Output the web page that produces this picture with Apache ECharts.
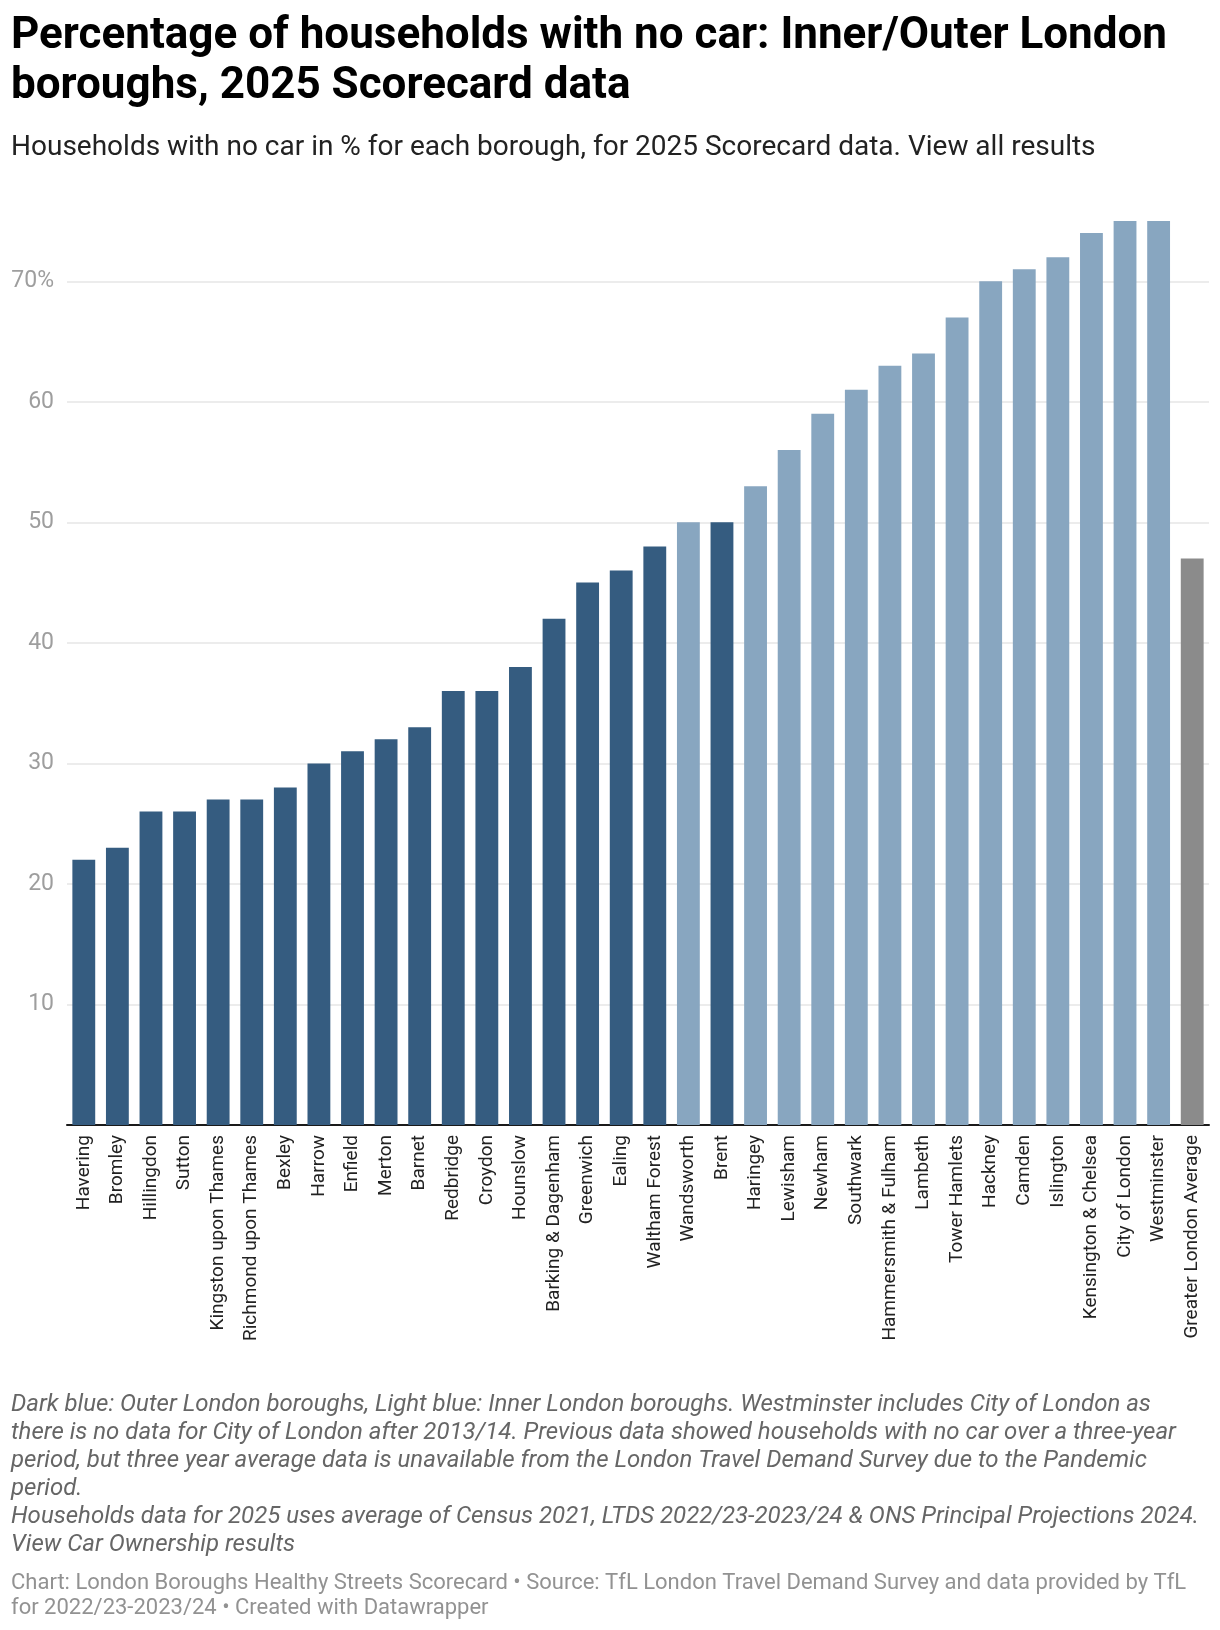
<!DOCTYPE html>
<html>
<head>
<meta charset="utf-8">
<script src="https://cdn.jsdelivr.net/npm/echarts@6/dist/echarts.min.js"></script>
<style>
html,body{margin:0;padding:0;background:#fff;}
#chart{width:1220px;height:1630px;}
</style>
</head>
<body>
<div id="chart"></div>
<script>
const categories = ["Havering","Bromley","Hillingdon","Sutton","Kingston upon Thames","Richmond upon Thames","Bexley","Harrow","Enfield","Merton","Barnet","Redbridge","Croydon","Hounslow","Barking & Dagenham","Greenwich","Ealing","Waltham Forest","Wandsworth","Brent","Haringey","Lewisham","Newham","Southwark","Hammersmith & Fulham","Lambeth","Tower Hamlets","Hackney","Camden","Islington","Kensington & Chelsea","City of London","Westminster","Greater London Average"];
const values = [22,23,26,26,27,27,28,30,31,32,33,36,36,38,42,45,46,48,50,50,53,56,59,61,63,64,67,70,71,72,74,75,75,47];
const groups = ["outer","outer","outer","outer","outer","outer","outer","outer","outer","outer","outer","outer","outer","outer","outer","outer","outer","outer","inner","outer","inner","inner","inner","inner","inner","inner","inner","inner","inner","inner","inner","inner","inner","average"];
const yTicks = [0,10,20,30,40,50,60,70];

const groupColors = {outer:"#355c80", inner:"#88a6c0", average:"#8b8b8b"};

const titleText = "Percentage of households with no car: Inner/Outer London\nboroughs, 2025 Scorecard data";
const subtitleText = "Households with no car in % for each borough, for 2025 Scorecard data. View all results";
const notesText = "Dark blue: Outer London boroughs, Light blue: Inner London boroughs. Westminster includes City of London as\nthere is no data for City of London after 2013/14. Previous data showed households with no car over a three-year\nperiod, but three year average data is unavailable from the London Travel Demand Survey due to the Pandemic\nperiod.\nHouseholds data for 2025 uses average of Census 2021, LTDS 2022/23-2023/24 & ONS Principal Projections 2024.\nView Car Ownership results";
const footerText = "Chart: London Boroughs Healthy Streets Scorecard \u2022 Source: TfL London Travel Demand Survey and data provided by TfL\nfor 2022/23-2023/24 \u2022 Created with Datawrapper";

const chart = echarts.init(document.getElementById('chart'), null, {renderer:'canvas'});
const font = "Roboto";
chart.setOption({
  backgroundColor:'#ffffff',
  animation:false,
  title:[
    {text:titleText, left:11, top:12, padding:0,
     textStyle:{fontFamily:font, fontWeight:'bold', fontSize:44, lineHeight:50, color:'#000'}},
    {text:subtitleText, left:11, top:133, padding:0,
     textStyle:{fontFamily:font, fontWeight:'normal', fontSize:28, lineHeight:30, color:'#222'}},
    {text:notesText, left:11, top:1391, padding:0,
     textStyle:{fontFamily:font, fontStyle:'italic', fontWeight:'normal', fontSize:24, lineHeight:28, color:'#666'}},
    {text:footerText, left:11, top:1571, padding:0,
     textStyle:{fontFamily:font, fontWeight:'normal', fontSize:22, lineHeight:25, color:'#929292'}}
  ],
  grid:{left:67, right:11, top:221, bottom:505, containLabel:false},
  xAxis:{
    type:'category',
    data:categories,
    axisLine:{show:true, lineStyle:{color:'#1a1a1a', width:2}},
    axisTick:{show:false},
    axisLabel:{rotate:90, interval:0, margin:10, fontFamily:font, fontSize:19, color:'#222'}
  },
  yAxis:{
    type:'value',
    min:0, max:75, interval:10,
    axisLine:{show:false},
    axisTick:{show:false},
    axisLabel:{showMaxLabel:false, margin:13, fontFamily:font, fontSize:23, color:'#9e9e9e',
      formatter:function(v){ if(v===0) return ''; if(v===yTicks[yTicks.length-1]) return v+'%'; return ''+v; }},
    splitLine:{show:true, showMaxLine:false, lineStyle:{color:['#e6e6e6','#e6e6e6','#e6e6e6','#e6e6e6','#e6e6e6','#e6e6e6','#e6e6e6','#e6e6e6','rgba(0,0,0,0)'], width:1.5}}
  },
  series:[{
    type:'bar',
    barCategoryGap:'32%',
    data:values.map(function(v,i){ return {value:v, itemStyle:{color:groupColors[groups[i]]}}; })
  }]
});
</script>
</body>
</html>
